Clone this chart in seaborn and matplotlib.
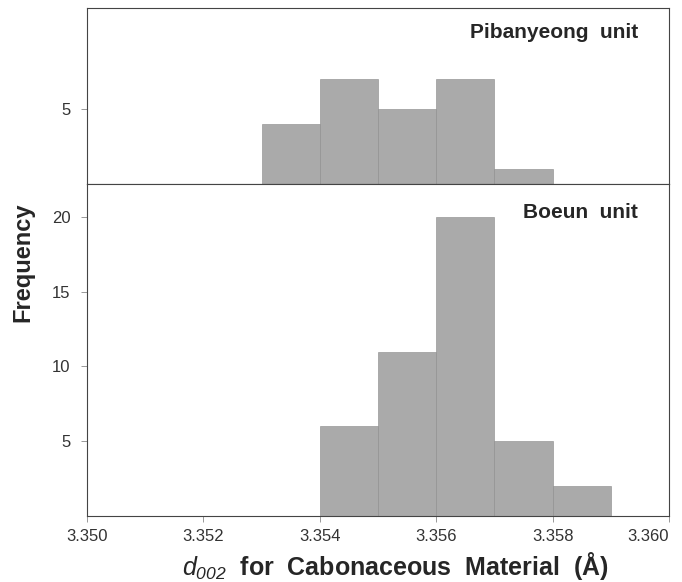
import numpy as np
import pandas as pd
import matplotlib
matplotlib.use("Agg")
import matplotlib.pyplot as plt
import seaborn as sns

# histogram counts (bin = 0.001 A)
pib_bins = [3.353, 3.354, 3.355, 3.356, 3.357]
pib_freq = [4, 7, 5, 7, 1]
boeun_bins = [3.354, 3.355, 3.356, 3.357, 3.358]
boeun_freq = [6, 11, 20, 5, 2]
bin_width = 0.001
x_ticks = [3.350, 3.352, 3.354, 3.356, 3.358, 3.360]

sns.set_style("ticks")
plt.rcParams["font.family"] = ["Liberation Sans", "DejaVu Sans"]
# only the d002 symbol uses mathtext, and it is all italic in the original
plt.rcParams["mathtext.fontset"] = "custom"
plt.rcParams["mathtext.it"] = "Liberation Sans:italic"
plt.rcParams["mathtext.rm"] = "Liberation Sans:italic"

edges = [round(3.350 + i * bin_width, 3) for i in range(11)]
bar_color = "#aaaaaa"

fig = plt.figure(figsize=(6.82, 5.82), dpi=100)
ax_top = fig.add_axes([0.1276, 0.6838, 0.8534, 0.3024])
ax_bot = fig.add_axes([0.1276, 0.1134, 0.8534, 0.5704])

for ax, bins, freq, ylim, yt, name, ty in [
    (ax_top, pib_bins, pib_freq, 11.7, [5], "Pibanyeong  unit", 0.86),
    (ax_bot, boeun_bins, boeun_freq, 22.2, [5, 10, 15, 20], "Boeun  unit", 0.915),
]:
    df = pd.DataFrame({"d002": np.array(bins) + bin_width / 2, "n": freq})
    sns.histplot(data=df, x="d002", weights="n", bins=edges, ax=ax,
                 color=bar_color, edgecolor="#8a8a8a", linewidth=0.4, alpha=1.0)
    ax.set_xlim(3.350, 3.360)
    ax.set_ylim(0, ylim)
    ax.set_yticks(yt)
    ax.set_ylabel("")
    ax.set_xlabel("")
    for s in ax.spines.values():
        s.set_visible(True)
        s.set_linewidth(0.8)
        s.set_color("#444444")
    ax.tick_params(axis="y", direction="out", length=4, width=0.6,
                   color="#888888", labelsize=12, labelcolor="#333333", pad=8)
    ax.text(0.947, ty, name, transform=ax.transAxes, ha="right", va="center",
            fontsize=15, fontweight="bold")

ax_top.set_xticks([])
ax_bot.set_xticks(x_ticks)
ax_bot.set_xticklabels([f"{t:.3f}" for t in x_ticks])
ax_bot.get_xticklabels()[-1].set_horizontalalignment("right")
ax_bot.tick_params(axis="x", direction="out", length=4, width=0.6,
                   color="#888888", labelsize=12, labelcolor="#333333", pad=5)

ax_bot.set_xlabel(r"$d_{002}$  for  Cabonaceous  Material  (Å)",
                  fontsize=18, fontweight="bold", va="center")
ax_bot.xaxis.set_label_coords(0.529, -0.152)
fig.text(0.033, 0.55, "Frequency", rotation=90, ha="center", va="center",
         fontsize=17, fontweight="bold")

fig.savefig("out.png", dpi=100)
